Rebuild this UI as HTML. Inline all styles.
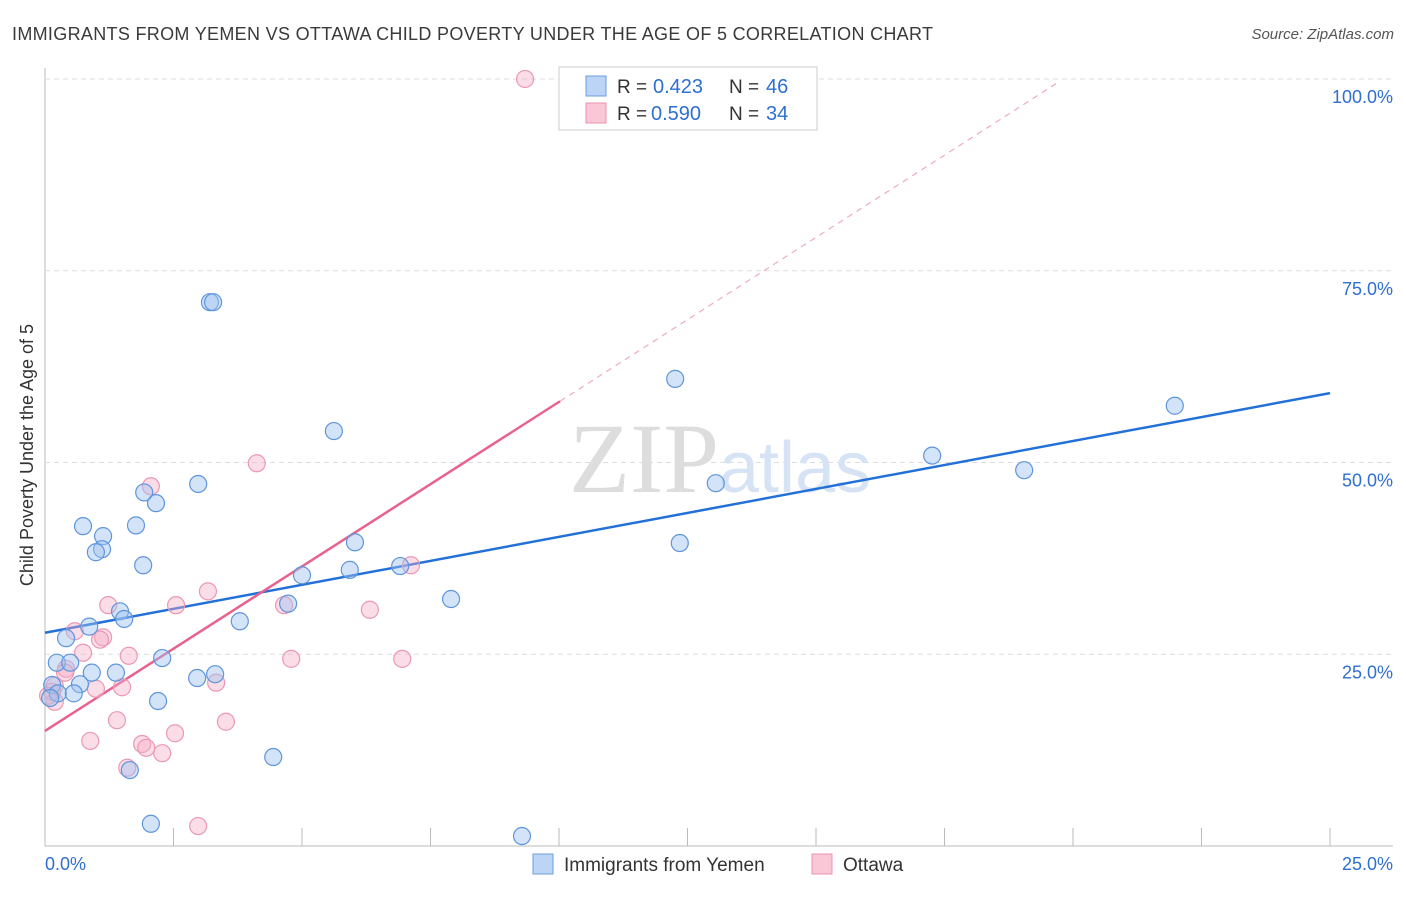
<!DOCTYPE html>
<html><head><meta charset="utf-8"><style>
body{margin:0;background:#fff;font-family:"Liberation Sans",sans-serif;}
svg text{font-family:"Liberation Sans",sans-serif;}
</style></head><body>
<svg id="chart" width="1406" height="892" xmlns="http://www.w3.org/2000/svg">
<text x="12" y="40" font-size="18" fill="#3a3a3a" textLength="921" lengthAdjust="spacing">IMMIGRANTS FROM YEMEN VS OTTAWA CHILD POVERTY UNDER THE AGE OF 5 CORRELATION CHART</text>
<text x="1394" y="39" font-size="15" fill="#555" text-anchor="end" font-style="italic">Source: ZipAtlas.com</text>
<text x="0" y="0" transform="translate(33,455) rotate(-90)" font-size="18" fill="#333" text-anchor="middle">Child Poverty Under the Age of 5</text>
<g id="grid"></g>
<text x="720" y="492" font-size="100" fill="#e6e6e6" text-anchor="middle" font-family="Liberation Serif"><tspan fill="#ddd" font-family="Liberation Serif">ZIP</tspan><tspan fill="#d5e3f5" font-size="72" font-family="Liberation Sans">atlas</tspan></text>
<g id="lines"></g>
<g id="points"></g>
<g>
<rect x="559" y="67" width="258" height="63" fill="#fff" stroke="#ccc"/>
<rect x="586" y="76" width="20" height="20" fill="#bcd4f5" stroke="#6a9ee0"/>
<rect x="586" y="103" width="20" height="20" fill="#f9c7d6" stroke="#eb93ad"/>
<text x="617" y="93" font-size="19" fill="#333">R =</text>
<text x="653" y="93" font-size="20" fill="#2e6fd1">0.423</text>
<text x="729" y="93" font-size="19" fill="#333">N =</text>
<text x="766" y="93" font-size="20" fill="#2e6fd1">46</text>
<text x="617" y="120" font-size="19" fill="#333">R =</text>
<text x="651" y="120" font-size="20" fill="#2e6fd1">0.590</text>
<text x="729" y="120" font-size="19" fill="#333">N =</text>
<text x="766" y="120" font-size="20" fill="#2e6fd1">34</text>
</g>
<g>
<rect x="533" y="854" width="20" height="20" fill="#bcd4f5" stroke="#6a9ee0"/>
<text x="564" y="871" font-size="19" fill="#333">Immigrants from Yemen</text>
<rect x="812" y="854" width="20" height="20" fill="#f9c7d6" stroke="#eb93ad"/>
<text x="843" y="871" font-size="19" fill="#333">Ottawa</text>
</g>
<text x="45" y="870" font-size="18" fill="#2e6fd1">0.0%</text>
<text x="1393" y="870" font-size="18" fill="#2e6fd1" text-anchor="end">25.0%</text>
</svg>
<script>
const yTicks=[25,50,75,100];
const xTickCount=10;
const blueX=[3.21,3.27,12.26,21.98,5.62,17.26,19.05,13.05,2.98,1.93,2.16,0.74,1.77,1.13,1.11,0.99,6.03,12.35,1.91,5.93,6.91,5.0,7.9,4.73,1.46,1.54,3.79,0.86,0.41,0.23,0.49,2.28,0.91,1.38,3.31,2.96,0.68,0.14,0.25,0.1,0.56,2.2,4.44,1.65,2.06,9.28];
const blueY=[70.9,70.9,60.9,57.4,54.1,50.9,49.0,47.3,47.2,46.1,44.7,41.7,41.8,40.4,38.7,38.3,39.6,39.5,36.6,36.0,36.5,35.3,32.2,31.6,30.6,29.6,29.3,28.6,27.1,23.9,23.9,24.5,22.6,22.6,22.4,21.9,21.1,21.0,19.9,19.3,19.9,18.9,11.6,9.9,2.9,1.3];
const pinkX=[9.34,4.12,2.06,3.17,1.23,2.55,4.65,6.32,7.12,0.58,1.13,1.07,1.63,0.74,4.79,6.95,0.41,0.99,1.5,3.33,0.14,0.19,1.4,3.52,0.88,1.89,1.97,2.53,2.28,1.6,2.98,0.39,0.19,0.06];
const pinkY=[100,49.9,46.9,33.2,31.4,31.4,31.4,30.8,36.6,28.0,27.2,26.9,24.8,25.2,24.4,24.4,23.1,20.5,20.7,21.3,20.1,18.8,16.4,16.2,13.7,13.3,12.8,14.7,12.1,10.2,2.6,22.6,20.9,19.6];
const trendIntercept=[27.8,15.0];
const trendSlope=[1.25,4.29];
const pinkSolidEnd=10.02, pinkDashEnd=19.75;
const sx=v=>45+v/25*1285;
const sy=v=>846-v*7.67;
const NS="http://www.w3.org/2000/svg";
function mk(t,a,p){const e=document.createElementNS(NS,t);for(const k in a)e.setAttribute(k,a[k]);p.appendChild(e);return e;}
const grid=document.getElementById('grid');
mk('line',{x1:45,y1:68,x2:45,y2:846,stroke:'#bbb'},grid);
mk('line',{x1:45,y1:846,x2:1393,y2:846,stroke:'#bbb'},grid);
yTicks.forEach(t=>{
 const l=mk('line',{x1:45,y1:sy(t),x2:1393,y2:sy(t),stroke:'#ddd','stroke-dasharray':'5,4'},grid);
 
 
 const tx=mk('text',{x:1393,y:sy(t)+24,'font-size':18,fill:'#2e6fd1','text-anchor':'end'},grid);
 tx.textContent=t.toFixed(1)+'%';
 
 
});
for(let i=1;i<=xTickCount;i++){
 const x=sx(i*2.5);
 const l=mk('line',{x1:x,y1:828,x2:x,y2:846,stroke:'#bbb'},grid);
 
 
}
const lines=document.getElementById('lines');
const f=(i,x)=>trendIntercept[i]+trendSlope[i]*x;
let b=mk('line',{x1:sx(0),y1:sy(f(0,0)),x2:sx(25),y2:sy(f(0,25)),stroke:'#2270d8','stroke-width':2.5},lines);


let p=mk('line',{x1:sx(0),y1:sy(f(1,0)),x2:sx(pinkSolidEnd),y2:sy(f(1,pinkSolidEnd)),stroke:'#e8628e','stroke-width':2.5},lines);


let pd=mk('line',{x1:sx(pinkSolidEnd),y1:sy(f(1,pinkSolidEnd)),x2:sx(pinkDashEnd),y2:sy(f(1,pinkDashEnd)),stroke:'#eeadc0','stroke-width':1.2,'stroke-dasharray':'6,5'},lines);


const pts=document.getElementById('points');
pinkX.forEach((x,i)=>{
 const c=mk('circle',{cx:sx(x),cy:sy(pinkY[i]),r:8.5,fill:'rgba(245,170,195,0.4)',stroke:'#eb98b2','stroke-width':1.2},pts);
 
 
});
blueX.forEach((x,i)=>{
 const c=mk('circle',{cx:sx(x),cy:sy(blueY[i]),r:8.5,fill:'rgba(160,195,240,0.45)',stroke:'#5f95dc','stroke-width':1.2},pts);
 
 
});
</script>
</body></html>
